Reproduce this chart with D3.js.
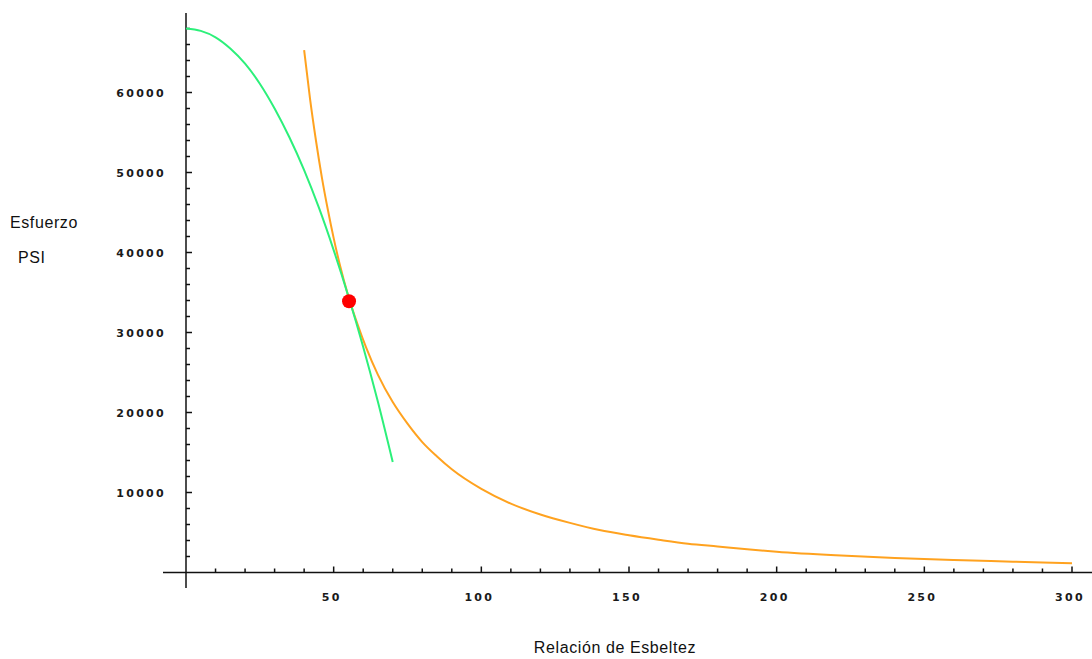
<!DOCTYPE html>
<html>
<head>
<meta charset="utf-8">
<script src="https://cdn.jsdelivr.net/npm/d3@7"></script>
<style>
  body { margin: 0; background: #fff; }
  svg { display: block; }
  .tick-label { font-family: "DejaVu Sans", sans-serif; font-size: 11px; font-weight: bold; fill: #1a1a1a; letter-spacing: 2.3px; }
  .title { font-family: "Liberation Sans", Arial, sans-serif; font-size: 16px; fill: #111; letter-spacing: 0.6px; }
</style>
</head>
<body>
<svg id="chart" width="1092" height="659"></svg>
<script>
// slenderness ratio vs stress (psi)
const johnsonX = [0, 5, 10, 15, 20, 25, 30, 35, 40, 45, 50, 55, 60, 65, 70];
const johnsonY = [68000, 67700, 66900, 65500, 63600, 61100, 58000, 54400, 50300, 45600, 40300, 34500, 28200, 21300, 13800];

const eulerX = [40, 42, 44, 46, 48, 50, 52, 55, 58, 61, 65, 70, 75, 80, 85, 90, 100, 110, 120, 130, 140, 150, 160, 170, 180, 190, 200, 220, 240, 260, 280, 300];
const eulerY = [65300, 59200, 54000, 49400, 45400, 41800, 38600, 34500, 31100, 28100, 24700, 21300, 18600, 16300, 14500, 12900, 10450, 8600, 7250, 6200, 5300, 4650, 4100, 3600, 3250, 2900, 2600, 2150, 1800, 1550, 1350, 1150];

const tangentPoint = [55.2, 33900];

const xTicks = [50, 100, 150, 200, 250, 300];
const yTicks = [10000, 20000, 30000, 40000, 50000, 60000];

const svg = d3.select("#chart");

const x = d3.scaleLinear().domain([0, 300]).range([186, 1072]);
const y = d3.scaleLinear().domain([0, 70000]).range([572.5, 12.5]);

const axisColor = "#111";

// axis lines
svg.append("line")
    .attr("x1", 163).attr("x2", 1092)
    .attr("y1", y(0)).attr("y2", y(0))
    .attr("stroke", axisColor).attr("stroke-width", 1.5);
svg.append("line")
    .attr("x1", x(0)).attr("x2", x(0))
    .attr("y1", 13).attr("y2", 588)
    .attr("stroke", axisColor).attr("stroke-width", 1.5);

// x ticks (minor every 10, major every 50), pointing up
const xMinor = d3.range(10, 301, 10);
svg.selectAll(".xtick").data(xMinor).join("line")
    .attr("x1", d => x(d)).attr("x2", d => x(d))
    .attr("y1", y(0))
    .attr("y2", d => d % 50 === 0 ? y(0) - 6 : y(0) - 4)
    .attr("stroke", axisColor).attr("stroke-width", 1.5);

svg.selectAll(".xlab").data(xTicks).join("text")
    .attr("class", "tick-label")
    .attr("x", d => x(d) - 2)
    .attr("y", 601)
    .attr("text-anchor", "middle")
    .text(d => d);

// y ticks (minor every 2000, major every 10000), pointing right
const yMinor = d3.range(2000, 68001, 2000);
svg.selectAll(".ytick").data(yMinor).join("line")
    .attr("x1", x(0))
    .attr("x2", d => d % 10000 === 0 ? x(0) + 6 : x(0) + 4)
    .attr("y1", d => y(d)).attr("y2", d => y(d))
    .attr("stroke", axisColor).attr("stroke-width", 1.5);

svg.selectAll(".ylab").data(yTicks).join("text")
    .attr("class", "tick-label")
    .attr("x", 166)
    .attr("y", d => y(d) + 4)
    .attr("text-anchor", "end")
    .text(d => d);

// curves
const line = d3.line().x(d => x(d[0])).y(d => y(d[1])).curve(d3.curveMonotoneX);

svg.append("path")
    .datum(d3.zip(eulerX, eulerY))
    .attr("d", line)
    .attr("fill", "none")
    .attr("stroke", "#ffa21f")
    .attr("stroke-width", 2);

svg.append("path")
    .datum(d3.zip(johnsonX, johnsonY))
    .attr("d", line)
    .attr("fill", "none")
    .attr("stroke", "#2cf07a")
    .attr("stroke-width", 2);

svg.append("circle")
    .attr("cx", x(tangentPoint[0]))
    .attr("cy", y(tangentPoint[1]))
    .attr("r", 7)
    .attr("fill", "#ff0000");

// axis titles
svg.append("text").attr("class", "title")
    .attr("x", 10).attr("y", 228).text("Esfuerzo");
svg.append("text").attr("class", "title")
    .attr("x", 18).attr("y", 263).text("PSI");
svg.append("text").attr("class", "title")
    .attr("x", 615).attr("y", 653)
    .attr("text-anchor", "middle")
    .text("Relación de Esbeltez");
</script>
</body>
</html>
